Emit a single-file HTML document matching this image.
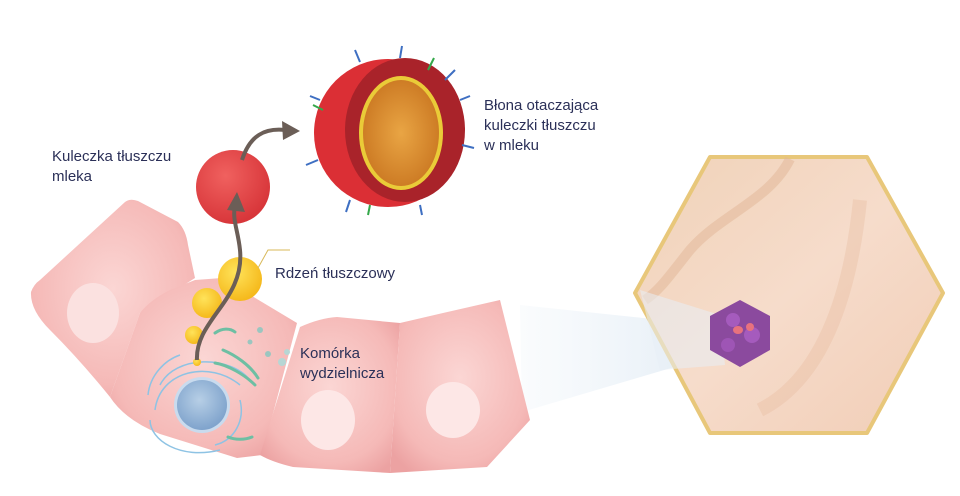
<!DOCTYPE html>
<html><head><meta charset="utf-8"><style>
html,body{margin:0;padding:0;background:#fff;}
svg{display:block;}
text{font-family:"Liberation Sans",sans-serif;font-size:15px;fill:#2b3058;}
</style></head><body>
<svg width="960" height="496" viewBox="0 0 960 496" xmlns="http://www.w3.org/2000/svg">
<defs>
<radialGradient id="cell" cx="50%" cy="45%" r="65%"><stop offset="0" stop-color="#fbd6d4"/><stop offset="0.75" stop-color="#f5b9b7"/><stop offset="1" stop-color="#eca2a2"/></radialGradient>
<radialGradient id="red" cx="40%" cy="35%" r="65%"><stop offset="0" stop-color="#f0615f"/><stop offset="1" stop-color="#d8363a"/></radialGradient>
<radialGradient id="yel" cx="40%" cy="35%" r="65%"><stop offset="0" stop-color="#ffe35a"/><stop offset="1" stop-color="#f5b91c"/></radialGradient>
<radialGradient id="org" cx="50%" cy="50%" r="60%"><stop offset="0" stop-color="#e9a544"/><stop offset="1" stop-color="#c8741f"/></radialGradient>
<linearGradient id="skin" x1="0" y1="0" x2="1" y2="1"><stop offset="0" stop-color="#f0d2b8"/><stop offset="0.5" stop-color="#f6dccb"/><stop offset="1" stop-color="#f1cdb6"/></linearGradient>
<linearGradient id="beam" x1="1" y1="0" x2="0" y2="0"><stop offset="0" stop-color="#dfeaf4" stop-opacity="0.9"/><stop offset="1" stop-color="#eef4f9" stop-opacity="0.3"/></linearGradient>
<radialGradient id="blue" cx="45%" cy="40%" r="60%"><stop offset="0" stop-color="#b7cfe6"/><stop offset="1" stop-color="#7fa3cc"/></radialGradient>
</defs>

<polygon points="520,305 710,325 715,355 522,412" fill="url(#beam)"/>

<polygon points="710,157 867,157 943,293 867,433 710,433 635,293" fill="url(#skin)" stroke="#e8c77a" stroke-width="4" stroke-linejoin="round"/>
<path d="M790,159 C770,200 720,215 690,250 C670,275 660,290 645,300" fill="none" stroke="#e2b596" stroke-width="10" opacity="0.5"/>
<path d="M860,200 C850,300 820,380 760,410" fill="none" stroke="#e9bfa2" stroke-width="14" opacity="0.4"/>
<polygon points="640,290 720,315 725,365 660,370" fill="#e8eff5" opacity="0.55"/>
<polygon points="740,300 770,316 770,350 740,367 710,350 710,316" fill="#8b4a9e"/>
<circle cx="733" cy="320" r="7" fill="#a55bbd"/><circle cx="752" cy="335" r="8" fill="#a55bbd"/><circle cx="728" cy="345" r="7" fill="#9e55b5"/>
<ellipse cx="738" cy="330" rx="5" ry="4" fill="#e8727e"/><ellipse cx="750" cy="327" rx="4" ry="4" fill="#e8727e"/>

<!-- cells -->
<path d="M31,292 Q34,284 40,280 L125,202 Q130,198 138,201 L178,222 Q186,230 188,245 L195,278 L140,313 L110,397 Q80,360 50,330 Q30,310 31,292 Z" fill="url(#cell)"/>
<path d="M110,397 L140,313 Q150,300 170,290 L195,280 L222,278 L297,323 L262,455 L237,458 L160,434 Q125,420 110,397 Z" fill="url(#cell)"/>
<path d="M260,455 L300,327 Q320,318 337,317 L400,323 L390,473 L293,467 Q272,462 260,455 Z" fill="url(#cell)"/>
<path d="M400,323 L443,313 L500,300 L530,420 L487,467 L390,473 Z" fill="url(#cell)"/>
<ellipse cx="93" cy="313" rx="26" ry="30" fill="#fbe1e0"/>
<ellipse cx="328" cy="420" rx="27" ry="30" fill="#fde7e6"/>
<ellipse cx="453" cy="410" rx="27" ry="28" fill="#fde7e6"/>

<g fill="none" stroke="#8ec3e4" stroke-width="1.5">
<path d="M155,410 C160,370 210,360 240,385"/><path d="M150,420 C150,440 180,460 220,450"/>
<path d="M160,385 C175,355 230,355 250,380"/><path d="M240,400 C245,420 235,440 215,445"/>
<path d="M148,395 C150,375 165,360 180,355"/>
</g>
<circle cx="202" cy="405" r="28" fill="#c9dbee"/>
<circle cx="202" cy="405" r="25" fill="url(#blue)"/>
<g fill="none" stroke="#6dbfa3" stroke-width="3" stroke-linecap="round">
<path d="M223,350 C235,355 250,365 258,378"/><path d="M215,363 C228,365 245,375 255,385"/>
<path d="M228,437 C235,440 245,440 252,437"/><path d="M215,333 C222,328 230,328 235,332"/>
</g>
<circle cx="260" cy="330" r="3" fill="#9bc6c0"/><circle cx="268" cy="354" r="3" fill="#9bc6c0"/><circle cx="250" cy="342" r="2.5" fill="#9bc6c0"/>
<circle cx="282" cy="362" r="4" fill="#b7d6d4"/><circle cx="287" cy="352" r="3" fill="#b7d6d4"/>

<circle cx="240" cy="279" r="22" fill="url(#yel)"/>
<circle cx="207" cy="303" r="15" fill="url(#yel)"/>
<circle cx="194" cy="335" r="9" fill="url(#yel)"/>
<circle cx="197" cy="362" r="4" fill="url(#yel)"/>
<polyline points="258,268 268,250 290,250" fill="none" stroke="#d9b95a" stroke-width="1"/>

<circle cx="233" cy="187" r="37" fill="url(#red)"/>

<path d="M197,360 C195,320 245,300 240,250 C238,230 232,220 235,205" fill="none" stroke="#6b5e57" stroke-width="4"/>
<polygon points="227,210 237,192 245,212" fill="#6b5e57"/>
<path d="M242,160 C250,135 265,128 285,130" fill="none" stroke="#6b5e57" stroke-width="4"/>
<polygon points="282,121 300,131 283,140" fill="#6b5e57"/>

<circle cx="388" cy="133" r="74" fill="#db2f35"/>
<ellipse cx="405" cy="130" rx="60" ry="72" fill="#a9232a"/>
<ellipse cx="401" cy="133" rx="42" ry="57" fill="#eacb38"/>
<ellipse cx="401" cy="133" rx="38" ry="53" fill="url(#org)"/>
<g stroke="#3e6fc2" stroke-width="2">
<line x1="320" y1="100" x2="310" y2="96"/><line x1="318" y1="160" x2="306" y2="165"/><line x1="460" y1="100" x2="470" y2="96"/>
<line x1="462" y1="145" x2="474" y2="148"/><line x1="350" y1="200" x2="346" y2="212"/><line x1="420" y1="205" x2="422" y2="215"/>
<line x1="360" y1="62" x2="355" y2="50"/><line x1="400" y1="58" x2="402" y2="46"/><line x1="445" y1="80" x2="455" y2="70"/>
</g>
<g stroke="#34a84a" stroke-width="2"><line x1="428" y1="70" x2="434" y2="58"/><line x1="323" y1="110" x2="313" y2="105"/><line x1="370" y1="205" x2="368" y2="215"/></g>

<text x="484" y="110">Błona otaczająca</text>
<text x="484" y="130">kuleczki tłuszczu</text>
<text x="484" y="150">w mleku</text>
<text x="52" y="161">Kuleczka tłuszczu</text>
<text x="52" y="181">mleka</text>
<text x="275" y="278">Rdzeń tłuszczowy</text>
<text x="300" y="358">Komórka</text>
<text x="300" y="378">wydzielnicza</text>
</svg>
</body></html>
